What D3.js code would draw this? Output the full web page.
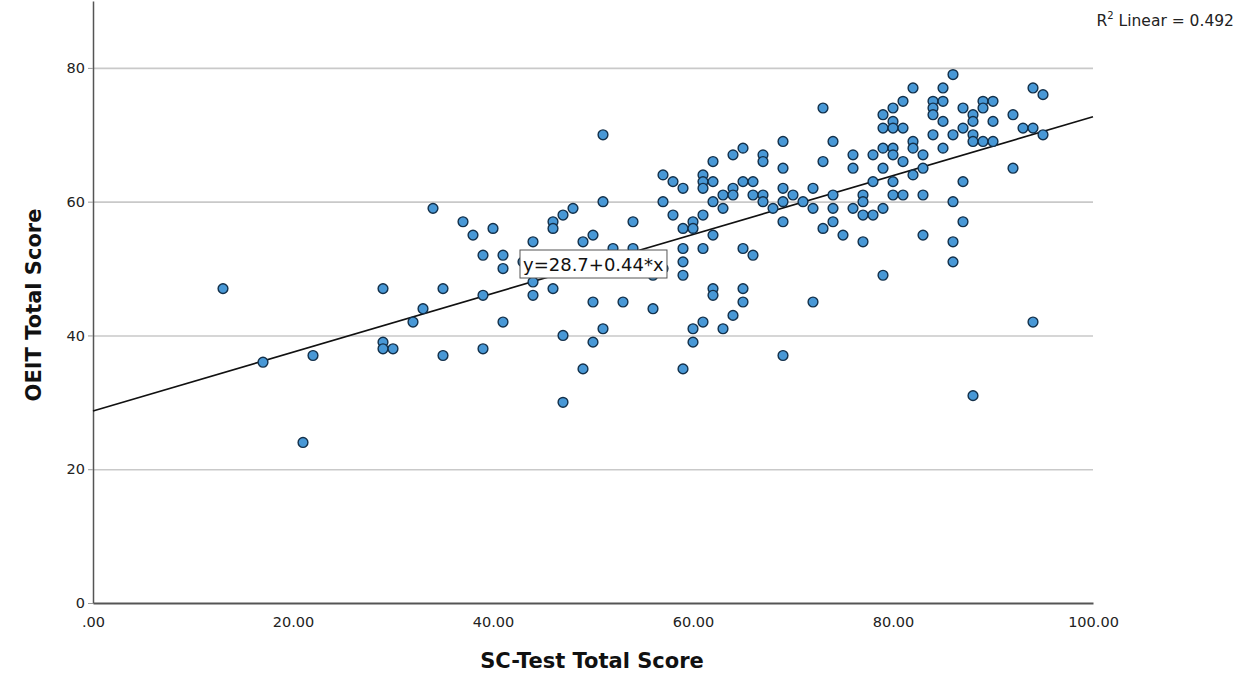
<!DOCTYPE html>
<html>
<head>
<meta charset="utf-8">
<script src="https://cdn.jsdelivr.net/npm/d3@7"></script>
<style>
    body { margin: 0; background: #fff; }
    svg text { font-family: "DejaVu Sans", sans-serif; }
</style>
</head>
<body>
<svg id="chart" width="1256" height="674"></svg>
<script>
// SC-Test total score (x) and OEIT total score (y), one entry per student
var scTest = [
    13, 17, 21, 22, 29, 29, 29, 30, 32, 33, 34, 35, 35, 37, 38, 39, 39, 39, 40, 41, 41, 41,
    43, 44, 44, 44, 46, 46, 46, 47, 47, 47, 48, 49, 49, 50, 50, 50, 51, 51, 51, 52, 53, 54, 54,
    56, 56, 57, 57, 57, 58, 58, 59, 59, 59, 59, 59, 59, 60, 60, 60, 60, 61, 61, 61, 61, 61, 61,
    62, 62, 62, 62, 62, 62, 63, 63, 63, 64, 64, 64, 64, 65, 65, 65, 65, 65, 66, 66, 66,
    67, 67, 67, 67, 68, 69, 69, 69, 69, 69, 69, 70,
    71, 72, 72, 72, 73, 73, 73, 74, 74, 74, 74, 75, 76, 76, 76, 77, 77, 77, 77, 78, 78, 78,
    79, 79, 79, 79, 79, 79, 80, 80, 80, 80, 80, 80, 80, 81, 81, 81, 81, 82, 82, 82, 82,
    83, 83, 83, 83, 84, 84, 84, 84, 85, 85, 85, 85, 86, 86, 86, 86, 86, 87, 87, 87, 87,
    88, 88, 88, 88, 88, 89, 89, 89, 90, 90, 90, 92, 92, 93, 94, 94, 94, 95, 95
];
var oeit = [
    47, 36, 24, 37, 47, 39, 38, 38, 42, 44, 59, 47, 37, 57, 55, 52, 46, 38, 56, 52, 50, 42,
    51, 54, 48, 46, 57, 56, 47, 58, 40, 30, 59, 54, 35, 55, 45, 39, 70, 60, 41, 53, 45, 57, 53,
    49, 44, 64, 60, 50, 63, 58, 62, 56, 53, 51, 49, 35, 57, 56, 41, 39, 64, 63, 62, 58, 53, 42,
    66, 63, 60, 55, 47, 46, 61, 59, 41, 67, 62, 61, 43, 68, 63, 53, 47, 45, 63, 61, 52,
    67, 66, 61, 60, 59, 69, 65, 62, 60, 57, 37, 61,
    60, 62, 59, 45, 74, 66, 56, 69, 61, 59, 57, 55, 67, 65, 59, 61, 60, 58, 54, 67, 63, 58,
    73, 71, 68, 65, 59, 49, 74, 72, 71, 68, 67, 63, 61, 75, 71, 66, 61, 77, 69, 68, 64,
    67, 65, 61, 55, 75, 74, 73, 70, 77, 75, 72, 68, 79, 70, 60, 54, 51, 74, 71, 63, 57,
    73, 72, 70, 69, 31, 75, 74, 69, 75, 72, 69, 73, 65, 71, 77, 71, 42, 76, 70
];
var xTicks = [0, 20, 40, 60, 80, 100];
var yTicks = [0, 20, 40, 60, 80];
var fitIntercept = 28.7;
var fitSlope = 0.44;
var rSquared = 0.492;
var xTitle = "SC-Test Total Score";
var yTitle = "OEIT Total Score";

var points = scTest.map(function(d, i) { return { sc: d, oeit: oeit[i] }; });

var svg = d3.select("#chart");

var x = d3.scaleLinear().domain([0, 100]).range([93, 1093]);
var y = d3.scaleLinear().domain([0, 90]).range([603, 1]);

// horizontal gridlines
svg.append("g")
    .attr("transform", "translate(93,0)")
    .call(d3.axisLeft(y).tickValues(yTicks.slice(1)).tickSize(-1000).tickFormat(""))
    .call(function(g) {
        g.select(".domain").remove();
        g.selectAll("line").attr("stroke", "#c9c9c9").attr("stroke-width", 1.6);
    });

// y axis
svg.append("g")
    .attr("transform", "translate(93,0)")
    .call(d3.axisLeft(y).tickValues(yTicks).tickSizeInner(5).tickSizeOuter(0).tickPadding(3))
    .call(function(g) {
        g.select(".domain").attr("stroke", "#555").attr("stroke-width", 1.5);
        g.selectAll("line").attr("stroke", "#999");
        g.selectAll("text").attr("font-size", 14.5).attr("fill", "#222");
    });

// x axis, SPSS style ".00" labels
svg.append("g")
    .attr("transform", "translate(0,603)")
    .call(d3.axisBottom(x).tickValues(xTicks).tickSizeInner(0).tickSizeOuter(0).tickPadding(14)
        .tickFormat(function(d) { return d3.format(".2f")(d).replace(/^0\./, "."); }))
    .call(function(g) {
        g.select(".domain").attr("stroke", "#555").attr("stroke-width", 1.8);
        g.selectAll("text").attr("font-size", 14.5).attr("fill", "#222");
    });

// fit line over the full x range
var line = d3.line()
    .x(function(d) { return x(d); })
    .y(function(d) { return y(fitIntercept + fitSlope * d); });
svg.append("path")
    .datum(x.domain())
    .attr("d", line)
    .attr("fill", "none")
    .attr("stroke", "#111")
    .attr("stroke-width", 1.6);

// the dots
svg.append("g").selectAll("circle.dot")
    .data(points)
    .enter().append("circle").classed("dot", true)
    .attr("cx", function(d) { return x(d.sc); })
    .attr("cy", function(d) { return y(d.oeit); })
    .attr("r", 4.9)
    .attr("fill", "#4898d6")
    .attr("stroke", "#13304a")
    .attr("stroke-width", 1.4);

// equation label in a box
var eq = svg.append("g");
var eqText = eq.append("text")
    .attr("x", x(42.6) + 4)
    .attr("y", 271)
    .attr("font-size", 18)
    .attr("fill", "#111")
    .text("y=" + fitIntercept + "+" + fitSlope + "*x");
var bb = eqText.node().getBBox();
eq.insert("rect", "text")
    .attr("x", bb.x - 3)
    .attr("y", 250)
    .attr("width", bb.width + 6)
    .attr("height", 28)
    .attr("fill", "#fff")
    .attr("stroke", "#555")
    .attr("stroke-width", 1);

// R squared note top right
var rNote = svg.append("text")
    .attr("x", 1234)
    .attr("y", 26)
    .attr("text-anchor", "end")
    .attr("font-size", 15.5)
    .attr("fill", "#222");
rNote.append("tspan").text("R");
rNote.append("tspan").attr("font-size", 10).attr("dy", -7).text("2");
rNote.append("tspan").attr("dy", 7).text(" Linear = " + rSquared);

// axis titles
svg.append("text")
    .attr("x", 592)
    .attr("y", 668)
    .attr("text-anchor", "middle")
    .attr("font-size", 21)
    .attr("font-weight", "bold")
    .attr("fill", "#111")
    .text(xTitle);

svg.append("text")
    .attr("transform", "translate(41,305) rotate(-90)")
    .attr("text-anchor", "middle")
    .attr("font-size", 21)
    .attr("font-weight", "bold")
    .attr("fill", "#111")
    .text(yTitle);
</script>
</body>
</html>
